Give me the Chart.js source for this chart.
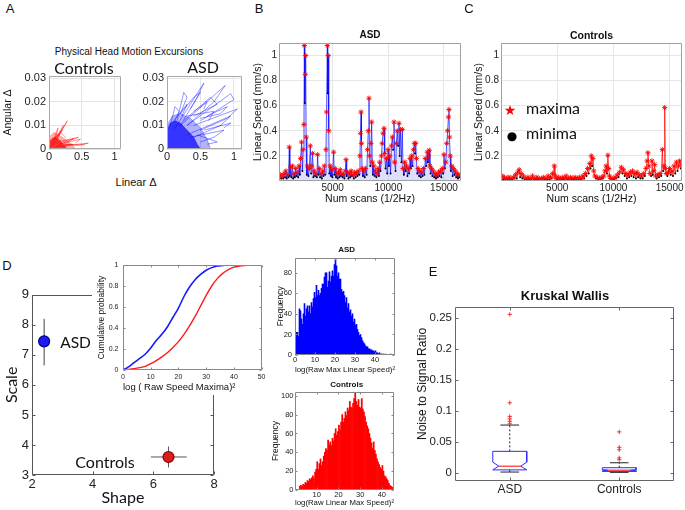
<!DOCTYPE html>
<html>
<head>
<meta charset="utf-8">
<title>Head motion figure</title>
<script src="https://cdn.jsdelivr.net/npm/chart.js@4.4.1/dist/chart.umd.min.js"></script>
<style>
  html, body { margin: 0; padding: 0; background: #fff; }
  #page { position: relative; width: 685px; height: 510px; overflow: hidden; font-family: 'Liberation Sans', Arial, sans-serif; color: #111; }
  #page canvas { position: absolute; }
  .t { position: absolute; transform: translate(-50%, -50%); white-space: nowrap; line-height: 1; color: #111; }
</style>
</head>
<body>
<div id="page"></div>
<script>
const SANS = "'Liberation Sans', Arial, sans-serif";
const CAL = "Lato, 'Open Sans', sans-serif";

// ---- A: head motion excursions, [linear, angular] pairs
const linTicks = [0, 0.5, 1];
const angTicks = [0, 0.01, 0.02, 0.03];
const ctrlCoreOuter = [[0,0],[0,0.005],[0.08,0.007],[0.15,0.006],[0.25,0.004],[0.35,0.002],[0.4,0]];
const ctrlCoreInner = [[0,0],[0,0.003],[0.05,0.0045],[0.1,0.005],[0.15,0.004],[0.2,0.0025],[0.25,0.001],[0.28,0]];
const ctrlPaths = [
  [[0.05,0.001],[0.28,0.012],[0.16,0.006],[0.03,0.001]],
  [[0.04,0.002],[0.22,0.010],[0.12,0.004]],
  [[0.08,0.002],[0.45,0.005],[0.30,0.0035],[0.10,0.001]],
  [[0.12,0.001],[0.60,0.0025],[0.45,0.0015],[0.22,0.002],[0.55,0.0018]],
  [[0.10,0.003],[0.38,0.0045],[0.28,0.003]],
  [[0.04,0.003],[0.20,0.008],[0.12,0.005]],
  [[0.02,0.001],[0.14,0.009],[0.09,0.004]],
  [[0.10,0.001],[0.36,0.002],[0.20,0.0008]],
  [[0.05,0.004],[0.18,0.007],[0.26,0.0048]],
  [[0.15,0.002],[0.48,0.0042],[0.40,0.0025]]
];
const asdCoreOuter = [[0,0],[0,0.01],[0.08,0.014],[0.2,0.015],[0.35,0.013],[0.5,0.009],[0.6,0.004],[0.65,0]];
const asdCoreInner = [[0,0],[0,0.008],[0.05,0.011],[0.12,0.012],[0.2,0.011],[0.3,0.008],[0.4,0.005],[0.45,0.002],[0.5,0]];
const asdPaths = [
  [[0.10,0.008],[0.55,0.028],[0.45,0.022],[0.20,0.010]],
  [[0.20,0.010],[0.87,0.027],[0.70,0.020],[0.30,0.010]],
  [[0.30,0.010],[0.95,0.0235],[1.00,0.021],[0.50,0.012]],
  [[0.40,0.010],[1.05,0.017],[0.90,0.013],[0.50,0.008]],
  [[0.30,0.006],[0.95,0.014],[0.80,0.010],[0.40,0.005]],
  [[0.15,0.012],[0.25,0.024],[0.30,0.022],[0.20,0.015]],
  [[0.20,0.015],[0.40,0.022],[0.50,0.024],[0.35,0.017]],
  [[0.25,0.012],[0.65,0.022],[0.75,0.019],[0.40,0.014]],
  [[0.35,0.005],[0.85,0.008],[0.70,0.005],[0.50,0.003]],
  [[0.45,0.006],[0.75,0.003],[0.60,0.002]],
  [[0.10,0.012],[0.30,0.019],[0.22,0.014]],
  [[0.50,0.013],[0.80,0.015],[0.90,0.018],[0.60,0.014]],
  [[0.05,0.010],[0.12,0.018],[0.18,0.016],[0.10,0.011]],
  [[0.40,0.016],[0.60,0.020],[0.55,0.017]],
  [[0.30,0.014],[0.70,0.016],[0.62,0.012]],
  [[0.55,0.008],[0.95,0.011],[0.85,0.009]]
];

// ---- B / C: linear speed per scan
const scanTicks = [5000, 10000, 15000];
const speedTicks = [0.2, 0.4, 0.6, 0.8, 1];
const asdScans = [
  200,300,380,480,560,650,720,800,870,950,
  1030,1105,1160,1230,1300,1380,1450,1530,1600,1680,
  1750,1830,1900,1980,2050,2120,2215,2280,2350,2420,
  2455,2500,2540,2575,2620,2680,2750,2820,2900,2995,
  3060,3130,3200,3270,3350,3420,3500,3580,3650,3720,
  3800,3870,3950,4030,4100,4180,4250,4320,4400,4450,
  4520,4560,4600,4650,4700,4780,4850,4920,4980,5090,
  5150,5230,5300,5380,5450,5530,5600,5680,5750,5830,
  5900,5980,6060,6130,6200,6260,6340,6420,6500,6580,
  6660,6740,6820,6900,6980,7060,7140,7220,7300,7380,
  7450,7500,7550,7590,7650,7720,7800,7880,7960,8050,
  8130,8200,8265,8310,8380,8440,8510,8560,8620,8700,
  8780,8850,8930,9000,9080,9150,9230,9300,9380,9450,
  9530,9613,9680,9750,9830,9900,9980,10050,10130,10200,
  10280,10360,10430,10510,10570,10650,10720,10800,10880,10960,
  11020,11100,11180,11260,11320,11400,11480,11560,11640,11720,
  11800,11870,11950,12020,12100,12180,12260,12340,12400,12460,
  12520,12600,12680,12760,12840,12920,13000,13080,13160,13240,
  13320,13400,13500,13560,13620,13680,13740,13800,13880,13960,
  14040,14120,14200,14280,14360,14440,14520,14600,14680,14760,
  14850,14920,15000,15080,15160,15250,15330,15400,15450,15500,
  15560,15620,15700,15780,15860,15940,16020,16100,16180,16260,
  16340,16420
];
const asdSpeed = [
  0.03,0.05,0.02,0.04,0.02,0.06,0.03,0.08,0.02,0.05,
  0.03,0.27,0.04,0.11,0.03,0.12,0.02,0.06,0.03,0.10,
  0.04,0.07,0.03,0.12,0.05,0.18,0.31,0.08,0.25,0.45,
  1.08,0.62,0.85,1.00,0.35,0.05,0.12,0.04,0.10,0.28,
  0.06,0.12,0.22,0.03,0.08,0.04,0.06,0.03,0.21,0.05,
  0.10,0.03,0.06,0.02,0.08,0.04,0.12,0.05,0.25,0.55,
  1.08,0.70,1.00,0.40,0.06,0.12,0.04,0.09,0.03,0.23,
  0.05,0.10,0.03,0.06,0.02,0.07,0.03,0.09,0.04,0.06,
  0.03,0.05,0.02,0.08,0.17,0.04,0.07,0.02,0.06,0.03,
  0.08,0.04,0.05,0.02,0.07,0.03,0.06,0.04,0.08,0.05,
  0.20,0.38,0.55,0.30,0.10,0.04,0.08,0.03,0.10,0.05,
  0.25,0.40,0.66,0.20,0.12,0.30,0.47,0.15,0.05,0.12,
  0.04,0.08,0.03,0.06,0.10,0.04,0.15,0.08,0.20,0.30,
  0.38,0.42,0.22,0.10,0.18,0.06,0.25,0.12,0.20,0.06,
  0.28,0.35,0.25,0.47,0.15,0.08,0.30,0.40,0.28,0.46,
  0.20,0.41,0.15,0.41,0.10,0.05,0.15,0.08,0.12,0.04,
  0.10,0.06,0.18,0.10,0.20,0.12,0.25,0.30,0.22,0.30,
  0.18,0.06,0.10,0.04,0.08,0.03,0.07,0.04,0.10,0.05,
  0.18,0.12,0.23,0.15,0.20,0.245,0.12,0.06,0.10,0.04,
  0.08,0.03,0.06,0.02,0.05,0.03,0.07,0.04,0.08,0.03,
  0.10,0.06,0.21,0.10,0.15,0.30,0.40,0.51,0.57,0.35,
  0.20,0.08,0.12,0.04,0.10,0.05,0.08,0.03,0.06,0.02,
  0.05,0.03
];
const ctrlScans = [
  0,100,200,300,400,500,600,700,800,900,
  1000,1100,1200,1300,1400,1500,1620,1700,1800,1900,
  2000,2100,2200,2300,2400,2500,2600,2700,2800,2900,
  3000,3100,3200,3300,3400,3500,3600,3700,3800,3900,
  4000,4100,4200,4300,4400,4500,4600,4740,4800,4900,
  5000,5100,5200,5300,5400,5500,5600,5700,5800,5900,
  6000,6100,6200,6300,6400,6500,6600,6700,6800,6900,
  7000,7100,7200,7300,7400,7500,7600,7700,7800,7900,
  7960,8030,8100,8175,8250,8350,8450,8550,8650,8750,
  8850,8950,9050,9150,9250,9350,9420,9510,9580,9650,
  9750,9850,9950,10050,10150,10250,10350,10450,10550,10700,
  10800,10900,11000,11100,11200,11300,11400,11500,11600,11700,
  11800,11900,12000,12100,12200,12300,12400,12500,12600,12700,
  12800,12900,13000,13070,13150,13250,13350,13430,13500,13600,
  13670,13750,13850,13950,14050,14150,14250,14350,14420,14500,
  14560,14620,14700,14800,14900,15000,15100,15200,15300,15400,
  15500,15600,15700,15800,15900,16000,16100
];
const ctrlSpeed = [
  0.02,0.04,0.01,0.03,0.01,0.02,0.01,0.03,0.01,0.02,
  0.01,0.03,0.02,0.05,0.02,0.07,0.09,0.03,0.06,0.02,
  0.04,0.01,0.02,0.01,0.03,0.01,0.02,0.01,0.04,0.01,
  0.02,0.01,0.03,0.01,0.02,0.01,0.02,0.01,0.03,0.01,
  0.02,0.01,0.04,0.01,0.03,0.02,0.06,0.12,0.04,0.02,
  0.01,0.03,0.01,0.02,0.01,0.03,0.01,0.02,0.04,0.01,
  0.02,0.01,0.03,0.01,0.02,0.01,0.03,0.01,0.02,0.01,
  0.03,0.01,0.02,0.04,0.02,0.06,0.04,0.10,0.06,0.14,
  0.10,0.20,0.12,0.18,0.08,0.04,0.02,0.03,0.01,0.02,
  0.01,0.03,0.02,0.04,0.08,0.12,0.06,0.205,0.10,0.04,
  0.02,0.01,0.02,0.01,0.03,0.02,0.05,0.03,0.07,0.11,
  0.06,0.09,0.04,0.06,0.02,0.05,0.03,0.07,0.04,0.08,
  0.03,0.06,0.02,0.07,0.03,0.05,0.02,0.04,0.02,0.06,
  0.04,0.10,0.16,0.225,0.12,0.06,0.04,0.16,0.05,0.08,
  0.13,0.04,0.02,0.05,0.03,0.06,0.04,0.25,0.08,0.12,
  0.585,0.10,0.06,0.04,0.07,0.10,0.05,0.08,0.04,0.12,
  0.06,0.15,0.08,0.12,0.16,0.10,0.14
];

// ---- D: Weibull fit (shape, scale) with error bars, CDF inset, histograms
const fitGroups = ['ASD', 'Controls'];
const shapeMean = [2.4, 6.5];
const shapeLo = [2.27, 5.92];
const shapeHi = [2.53, 7.1];
const scaleMean = [7.45, 3.6];
const scaleLo = [6.65, 3.25];
const scaleHi = [8.2, 3.95];
const shapeTicks = [2, 4, 6, 8];
const scaleTicks = [3, 4, 5, 6, 7, 8, 9];

const cdfX = [0,2,4,6,8,10,12,14,16,18,20,22,24,26,28,30,32,34,36,38,40,42,45,50];
const cdfAsd = [0,0.03,0.07,0.11,0.15,0.21,0.28,0.34,0.41,0.50,0.59,0.70,0.79,0.86,0.91,0.95,0.975,0.99,0.995,1,1,1,1,1];
const cdfCtrl = [0,0.005,0.012,0.022,0.035,0.06,0.09,0.125,0.165,0.215,0.27,0.34,0.42,0.51,0.61,0.71,0.80,0.87,0.92,0.955,0.98,0.99,0.998,1];
const cdfTicksX = [0, 10, 20, 30, 40, 50];
const cdfTicksY = [0, 0.2, 0.4, 0.6, 0.8, 1];

const histBinWidth = 0.5;
const histAsd = [
  22,22,22,18,45,43,35,30,40,50,
  38,45,48,42,48,40,51,47,55,61,
  56,68,58,63,58,60,65,69,69,76,
  80,80,66,72,81,71,77,82,77,88,
  94,87,77,80,74,74,64,61,62,58,
  51,56,46,50,42,44,38,40,32,35,
  29,30,25,22,19,20,17,14,12,11,
  9,8,8,6,6,5,5,4,4,3,
  4,2,2,1,2,1,1,1,1,0,
  1,0,0,0,0,1,0,0,0,0
];
const histCtrl = [
  0,0,0,0,4,5,4,6,5,8,
  7,10,9,12,11,13,15,12,19,22,
  30,22,28,33,26,30,36,40,44,42,
  53,48,51,47,55,52,60,65,58,62,
  69,64,72,80,72,76,83,79,87,84,
  94,88,87,92,97,104,94,90,96,88,
  87,97,86,83,78,72,68,65,60,55,
  50,44,51,42,38,33,30,27,24,22,
  26,20,15,14,12,10,7,5,4,3,
  2,5
];
const histAsdTicksX = [0, 10, 20, 30, 40];
const histAsdTicksY = [0, 20, 40, 60, 80];
const histCtrlTicksX = [10, 20, 30, 40];
const histCtrlTicksY = [0, 20, 40, 60, 80, 100];

// ---- E: noise to signal ratio, box plot stats
const boxGroups = ['ASD', 'Controls'];
const boxQ1 = [0.0045, 0.002];
const boxMedian = [0.0105, 0.004];
const boxQ3 = [0.0345, 0.008];
const notchLo = [0.0045, 0.003];
const notchHi = [0.017, 0.005];
const whiskerLo = [0.001, 0.0005];
const whiskerHi = [0.077, 0.016];
const boxOutliers = [[0.079, 0.083, 0.087, 0.091, 0.113, 0.256], [0.021, 0.024, 0.037, 0.041, 0.066]];
const nsrTicks = [0, 0.05, 0.1, 0.15, 0.2, 0.25];

// ---------------------------------------------------------------
const page = document.getElementById('page');

// box frame + inward tick marks like the original axes
const framePlugin = {
  id: 'frame',
  beforeDraw(chart, args, opts) {
    if (!opts.background) return;
    const ctx = chart.ctx;
    ctx.save();
    ctx.fillStyle = opts.background;
    ctx.fillRect(0, 0, chart.width, chart.height);
    ctx.restore();
  },
  afterDatasetsDraw(chart, args, opts) {
    if (!opts.color) return;
    const ctx = chart.ctx, a = chart.chartArea;
    const sx = chart.scales.x, sy = chart.scales.y;
    const L = Math.round(a.left) + 0.5, R = Math.round(a.right) - 0.5;
    const T = Math.round(a.top) + 0.5, B = Math.round(a.bottom) - 0.5;
    ctx.save();
    ctx.strokeStyle = opts.color;
    ctx.lineWidth = 1;
    ctx.beginPath();
    ctx.rect(L, T, R - L, B - T);
    const n = opts.tick || 0;
    if (n) {
      sx.ticks.forEach(t => {
        const p = Math.round(sx.getPixelForValue(t.value)) + 0.5;
        ctx.moveTo(p, B); ctx.lineTo(p, B - n);
        ctx.moveTo(p, T); ctx.lineTo(p, T + n);
      });
      sy.ticks.forEach(t => {
        const p = Math.round(sy.getPixelForValue(t.value)) + 0.5;
        ctx.moveTo(L, p); ctx.lineTo(L + n, p);
        ctx.moveTo(R, p); ctx.lineTo(R - n, p);
      });
    }
    ctx.stroke();
    ctx.restore();
  }
};
Chart.register(framePlugin);

function pts(xs, ys) { return xs.map((x, i) => ({ x: x, y: ys[i] })); }
function pairs(list) { return list.map(p => ({ x: p[0], y: p[1] })); }

function seg(list, color, width, dash) {
  return { data: pairs(list), showLine: true, pointRadius: 0, borderColor: color,
           borderWidth: width || 1, borderDash: dash || [], fill: false };
}

function linAxis(min, max, tickVals, o) {
  o = o || {};
  const ax = {
    type: 'linear', min: min, max: max, offset: false,
    afterBuildTicks: s => { s.ticks = tickVals.map(v => ({ value: v })); },
    ticks: {
      autoSkip: false, maxRotation: 0, minRotation: 0,
      padding: o.pad == null ? 3 : o.pad,
      font: { size: o.size || 10, family: SANS }, color: '#222',
      callback: o.labels ? (v => o.labels[tickVals.indexOf(v)]) : (v => String(v))
    },
    grid: { display: !!o.grid, color: o.grid || '#ddd', drawTicks: false, offset: false },
    border: { display: false },
    title: { display: false }
  };
  if (o.title) {
    ax.title = { display: true, text: o.title, color: '#111', align: o.titleAlign || 'center',
                 font: { size: o.titleSize || 10, family: o.titleFamily || SANS },
                 padding: o.titlePad || 0 };
  }
  return ax;
}

function addChart(box, type, datasets, scales, plugins) {
  const c = document.createElement('canvas');
  const w = box.r - box.l + box.axL + box.padR;
  const h = box.b - box.t + box.padT + box.axB;
  c.width = w; c.height = h;
  c.style.left = (box.l - box.axL) + 'px';
  c.style.top = (box.t - box.padT) + 'px';
  c.style.width = w + 'px';
  c.style.height = h + 'px';
  page.appendChild(c);
  scales.x.afterFit = s => { s.height = box.axB; };
  scales.y.afterFit = s => { s.width = box.axL; };
  return new Chart(c, {
    type: type,
    data: { datasets: datasets },
    options: {
      responsive: false, animation: false, devicePixelRatio: 1,
      layout: { padding: { top: box.padT, right: box.padR, bottom: 0, left: 0 } },
      scales: scales,
      plugins: Object.assign({ legend: { display: false }, tooltip: { enabled: false } }, plugins || {})
    }
  });
}

function text(str, x, y, css) {
  const d = document.createElement('div');
  d.className = 't';
  d.textContent = str;
  d.style.left = x + 'px';
  d.style.top = y + 'px';
  Object.assign(d.style, css || {});
  page.appendChild(d);
  return d;
}

// ---- A
function excursionSets(paths, outer, inner, rgb) {
  const sets = paths.map(p => seg(p, 'rgba(' + rgb + ',0.6)', 0.7));
  sets.push(Object.assign(seg(inner, 'rgba(' + rgb + ',0.7)', 0.6), { fill: 'origin', backgroundColor: 'rgba(' + rgb + ',0.7)' }));
  sets.push(Object.assign(seg(outer, 'rgba(' + rgb + ',0.5)', 0.6), { fill: 'origin', backgroundColor: 'rgba(' + rgb + ',0.3)' }));
  return sets;
}

addChart({ l: 49, t: 76, r: 121, b: 149, axL: 49, padT: 10, padR: 4, axB: 14 }, 'scatter',
  excursionSets(ctrlPaths, ctrlCoreOuter, ctrlCoreInner, '255,0,0'),
  {
    x: linAxis(0, 1.1, linTicks, { size: 11, pad: 1.4, grid: '#e4e4e4' }),
    y: linAxis(0, 0.031, angTicks, { size: 11, pad: 3, grid: '#e4e4e4', title: 'Angular \u0394', titleSize: 10.5, titlePad: 1.7 })
  }, { frame: { color: '#a8a8a8' } });

addChart({ l: 167, t: 76, r: 242, b: 149, axL: 27, padT: 10, padR: 4, axB: 14 }, 'scatter',
  excursionSets(asdPaths, asdCoreOuter, asdCoreInner, '0,0,255'),
  {
    x: linAxis(0, 1.12, linTicks, { size: 11, pad: 1.4, grid: '#e4e4e4' }),
    y: linAxis(0, 0.031, angTicks, { size: 11, pad: 3, grid: '#e4e4e4' })
  }, { frame: { color: '#a8a8a8' } });

// ---- B, C
function speedSets(scans, speed, lineColor, fillColor) {
  const peaks = [], lows = [];
  speed.forEach((v, i) => {
    const prev = i > 0 ? speed[i - 1] : Infinity;
    const next = i < speed.length - 1 ? speed[i + 1] : Infinity;
    (v <= prev && v <= next ? lows : peaks).push({ x: scans[i], y: v });
  });
  return [
    { data: peaks, pointStyle: 'star', pointRadius: 2.6, borderColor: '#ff0000', backgroundColor: '#ff0000', borderWidth: 0.9 },
    { data: lows, pointStyle: 'circle', pointRadius: 1, backgroundColor: '#000', borderWidth: 0 },
    { data: pts(scans, speed), showLine: true, pointRadius: 0, borderColor: lineColor, borderWidth: 0.8,
      fill: fillColor ? 'origin' : false, backgroundColor: fillColor || 'rgba(0,0,0,0)' }
  ];
}

addChart({ l: 279, t: 43, r: 461, b: 181, axL: 33, padT: 10, padR: 8, axB: 26 }, 'scatter',
  speedSets(asdScans, asdSpeed, 'rgba(0,0,255,0.8)', 'rgba(90,90,255,0.2)'),
  {
    x: linAxis(180, 16530, scanTicks, { size: 10, pad: 1.5, grid: '#e6e6e6', title: 'Num scans (1/2Hz)', titleSize: 10.5, titlePad: 1.7 }),
    y: linAxis(0, 1.1, speedTicks, { size: 10, pad: 2, grid: '#e6e6e6', title: 'Linear Speed (mm/s)', titleSize: 10.5, titlePad: 5.7 })
  }, { frame: { color: '#a0a0a0' } });

addChart({ l: 501, t: 43, r: 682, b: 181, axL: 33, padT: 10, padR: 12, axB: 26 }, 'scatter',
  speedSets(ctrlScans, ctrlSpeed, 'rgba(255,0,0,0.9)', null),
  {
    x: linAxis(0, 16100, scanTicks, { size: 10, pad: 1.5, grid: '#e6e6e6', title: 'Num scans (1/2Hz)', titleSize: 10.5, titlePad: 1.7 }),
    y: linAxis(0, 1.1, speedTicks, { size: 10, pad: 2, grid: '#e6e6e6', title: 'Linear Speed (mm/s)', titleSize: 10.5, titlePad: 4.7 })
  }, { frame: { color: '#a0a0a0' } });

// ---- D main: shape vs scale
const fitFill = ['#1c1cf0', '#d42020'];
const fitEdge = ['#00008a', '#8a0000'];
const barColor = ['#444', '#6a5070'];
const dSets = [{
  data: pts(shapeMean, scaleMean), pointRadius: 5.5, pointBackgroundColor: fitFill,
  pointBorderColor: fitEdge, pointBorderWidth: 1.2
}];
fitGroups.forEach((g, i) => {
  dSets.push(seg([[shapeMean[i], scaleLo[i]], [shapeMean[i], scaleHi[i]]], barColor[i], 1));
  dSets.push(seg([[shapeLo[i], scaleMean[i]], [shapeHi[i], scaleMean[i]]], '#555', 1));
});
addChart({ l: 32, t: 294, r: 214, b: 475, axL: 32, padT: 10, padR: 10, axB: 35 }, 'scatter', dSets,
  {
    x: linAxis(2, 8, shapeTicks, { size: 13, pad: 1.2, title: 'Shape', titleSize: 16, titleFamily: CAL, titlePad: 2.4 }),
    y: linAxis(3, 9, scaleTicks, { size: 13, pad: 3, title: 'Scale', titleSize: 16, titleFamily: CAL, titlePad: 2.4 })
  }, { frame: { color: '#555', tick: 3 } });

// ---- D inset: cumulative probability
addChart({ l: 123, t: 265, r: 262, b: 370, axL: 31, padT: 10, padR: 6, axB: 25 }, 'scatter', [
    Object.assign(seg([], '#1a1aff', 1.6), { data: pts(cdfX, cdfAsd), cubicInterpolationMode: 'monotone' }),
    Object.assign(seg([], '#ff1a1a', 1.4), { data: pts(cdfX, cdfCtrl), cubicInterpolationMode: 'monotone' })
  ],
  {
    x: linAxis(0, 50, cdfTicksX, { size: 7, pad: 2.5, title: 'log ( Raw Speed Maxima)\u00b2', titleSize: 9.5, titlePad: 1.6, titleAlign: 'start' }),
    y: linAxis(0, 1, cdfTicksY, { size: 7, pad: 4.5, title: 'Cumulative probability', titleSize: 8.5, titlePad: 4.6 })
  }, { frame: { color: '#888', tick: 2, background: '#fff' } });

// ---- D histograms
function histSet(counts, color) {
  return [{
    data: counts.map((v, i) => ({ x: (i + 0.5) * histBinWidth, y: v })),
    backgroundColor: color, borderWidth: 0, barPercentage: 1, categoryPercentage: 1
  }];
}
addChart({ l: 295, t: 257, r: 395, b: 355, axL: 25, padT: 7, padR: 5, axB: 21 }, 'bar', histSet(histAsd, '#0000ff'),
  {
    x: linAxis(0, 50, histAsdTicksX, { size: 7.5, pad: 0, title: 'log(Raw Max Linear Speed)\u00b2', titleSize: 8, titlePad: 1.9 }),
    y: linAxis(0, 95, histAsdTicksY, { size: 7.5, pad: 3, title: 'Frequency', titleSize: 8.5, titlePad: 5.4 })
  }, { frame: { color: '#888', tick: 2 } });

addChart({ l: 295, t: 392, r: 394, b: 490, axL: 27, padT: 6, padR: 5, axB: 20 }, 'bar', histSet(histCtrl, '#ff0000'),
  {
    x: linAxis(0, 45.6, histCtrlTicksX, { size: 7.5, pad: 0, title: 'log(Raw Linear Max Speed)\u00b2', titleSize: 8, titlePad: 2.2 }),
    y: linAxis(0, 104, histCtrlTicksY, { size: 7.5, pad: 1.5, title: 'Frequency', titleSize: 8.5, titlePad: 2.9 })
  }, { frame: { color: '#888', tick: 2 } });

// ---- E: notched box plot
const BOX_W = 0.155, NOTCH_W = 0.1, CAP_W = 0.085;
const eSets = [];
boxGroups.forEach((g, i) => {
  const c = i + 1;
  eSets.push({ data: boxOutliers[i].map(v => ({ x: c, y: v })), pointStyle: 'cross', pointRadius: 2.2,
               borderColor: '#ff2020', borderWidth: 0.9 });
  eSets.push(seg([[c - NOTCH_W, boxMedian[i]], [c + NOTCH_W, boxMedian[i]]], '#ff0000', 1));
  eSets.push(seg([
    [c - BOX_W, boxQ3[i]], [c + BOX_W, boxQ3[i]], [c + BOX_W, notchHi[i]], [c + NOTCH_W, boxMedian[i]],
    [c + BOX_W, notchLo[i]], [c + BOX_W, boxQ1[i]], [c - BOX_W, boxQ1[i]], [c - BOX_W, notchLo[i]],
    [c - NOTCH_W, boxMedian[i]], [c - BOX_W, notchHi[i]], [c - BOX_W, boxQ3[i]]
  ], '#2b2bff', 1));
  eSets.push(seg([[c, boxQ3[i]], [c, whiskerHi[i]]], '#222', 1, [2, 2]));
  eSets.push(seg([[c, boxQ1[i]], [c, whiskerLo[i]]], '#222', 1, [2, 2]));
  eSets.push(seg([[c - CAP_W, whiskerHi[i]], [c + CAP_W, whiskerHi[i]]], '#222', 1));
  eSets.push(seg([[c - CAP_W, whiskerLo[i]], [c + CAP_W, whiskerLo[i]]], '#222', 1));
});
addChart({ l: 455, t: 307, r: 674, b: 481, axL: 55, padT: 10, padR: 8, axB: 24 }, 'scatter', eSets,
  {
    x: linAxis(0.5, 2.5, [1, 2], { size: 12, pad: 1.8, labels: boxGroups }),
    y: linAxis(-0.0135, 0.268, nsrTicks, { size: 11.5, pad: 3 })
  }, { frame: { color: '#666', tick: 3 } });

// ---- text on top
const letter = { fontSize: '13px' };
text('A', 10, 8, letter);
text('B', 259, 8, letter);
text('C', 469, 8, letter);
text('D', 7, 265, letter);
text('E', 433, 271, letter);

text('Physical Head Motion Excursions', 129, 52, { fontSize: '10px' });
text('Controls', 84, 68, { fontFamily: CAL, fontSize: '16px' });
text('ASD', 203, 67, { fontFamily: CAL, fontSize: '16px' });
text('Linear \u0394', 136, 182, { fontSize: '11px', color: '#111' });

text('ASD', 370, 34.5, { fontSize: '10px', fontWeight: 'bold' });
text('Controls', 591.5, 34.5, { fontSize: '10.5px', fontWeight: 'bold' });

text('\u2605', 510, 110, { fontFamily: "'DejaVu Sans', sans-serif", fontSize: '14px', color: '#ff0000' });
text('maxima', 526, 108, { fontFamily: CAL, fontSize: '16px', transform: 'translate(0,-50%)' });
text('\u25cf', 512, 135.5, { fontFamily: "'DejaVu Sans', sans-serif", fontSize: '12px', color: '#000' });
text('minima', 526, 133, { fontFamily: CAL, fontSize: '16px', transform: 'translate(0,-50%)' });

text(fitGroups[0], 75.5, 343, { fontFamily: CAL, fontSize: '15.5px' });
text(fitGroups[1], 105, 462, { fontFamily: CAL, fontSize: '16px' });

text('ASD', 346.7, 250, { fontSize: '8px', fontWeight: 'bold' });
text('Controls', 346.7, 385, { fontSize: '8px', fontWeight: 'bold' });

text('Kruskal Wallis', 565, 295, { fontSize: '13px', fontWeight: 'bold' });
text('Noise to Signal Ratio', 421.5, 384, { fontSize: '12px', transform: 'translate(-50%,-50%) rotate(-90deg)' });
</script>
</body>
</html>
